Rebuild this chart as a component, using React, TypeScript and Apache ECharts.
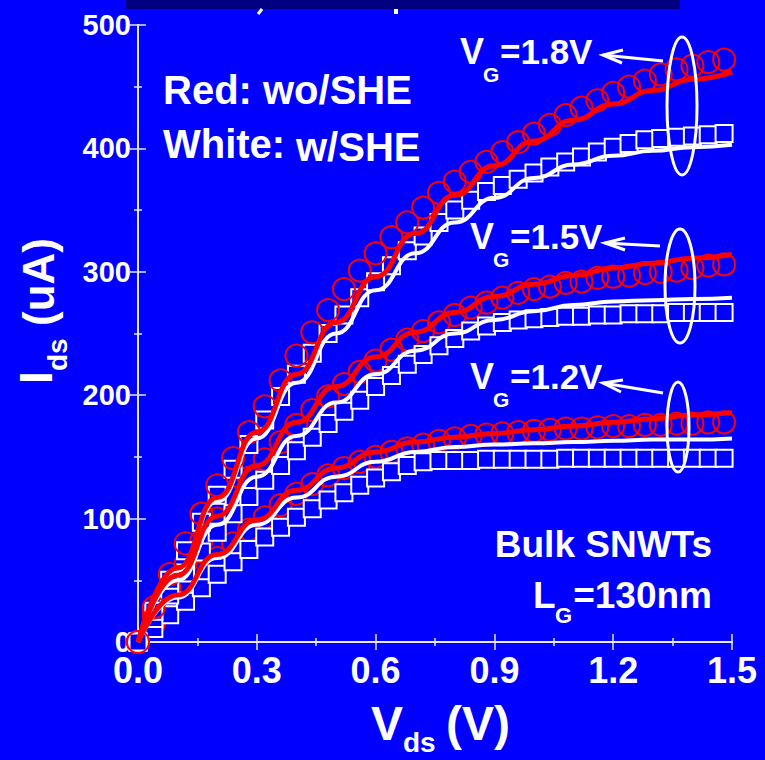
import React, { useEffect, useRef } from "react";
import * as echarts from "echarts";

// Vds sample points of the measured markers (V)
const VDS = [0, 0.04, 0.08, 0.12, 0.16, 0.2, 0.24, 0.28, 0.32, 0.36, 0.4, 0.44, 0.48, 0.52, 0.56, 0.6, 0.64, 0.68, 0.72, 0.76,
  0.8, 0.84, 0.88, 0.92, 0.96, 1.0, 1.04, 1.08, 1.12, 1.16, 1.2, 1.24, 1.28, 1.32, 1.36, 1.4, 1.44, 1.48];
// Vds points of the model curves (V)
const VLINE = [0, 0.1, 0.2, 0.3, 0.4, 0.5, 0.6, 0.7, 0.8, 0.9, 1.0, 1.1, 1.2, 1.3, 1.4, 1.5];

// Red circles: wo/SHE measured (uA)
const RED_18 = [0, 28, 55, 80, 104, 127, 149, 170, 191, 212, 232, 251, 269, 286, 301, 315, 328, 340, 352, 364,
  373, 381, 389, 397, 405, 412, 419, 427, 433, 439, 445, 450, 455, 460, 464, 467, 470, 472];
const RED_15 = [0, 22, 43, 63, 82, 100, 117, 133, 148, 162, 176, 188, 199, 209, 219, 228, 237, 245, 252, 259,
  265, 271, 275, 279, 283, 286, 288, 291, 292, 295, 296, 297, 299, 300, 301, 303, 305, 306];
const RED_12 = [0, 15, 29, 43, 56, 68, 80, 91, 101, 111, 120, 128, 135, 141, 146, 150, 154, 157, 160, 163,
  165, 167, 168, 169, 170, 171, 172, 173, 173, 174, 175, 175, 176, 176, 177, 177, 178, 178];

// White squares: w/SHE measured (uA)
const WHITE_18 = [0, 25, 50, 74, 97, 119, 140, 160, 180, 199, 217, 234, 250, 265, 279, 292, 305, 317, 329, 340,
  350, 358, 365, 370, 375, 380, 385, 389, 393, 397, 401, 404, 407, 408, 409, 410, 411, 412];
const WHITE_15 = [0, 19, 38, 56, 73, 89, 104, 118, 131, 143, 155, 166, 177, 187, 196, 207, 216, 225, 233, 240,
  246, 252, 256, 259, 261, 262, 263, 264, 264, 265, 265, 266, 266, 266, 267, 267, 267, 267];
const WHITE_12 = [0, 11, 22, 33, 44, 55, 65, 75, 85, 93, 101, 108, 115, 121, 127, 133, 138, 143, 146, 147,
  147, 147, 148, 148, 148, 148, 148, 149, 149, 149, 149, 149, 149, 149, 149, 149, 149, 149];

// Model curves (uA)
const RED_LINE_18 = [0, 60, 117, 170, 217, 259, 296, 331, 362, 386, 406, 423, 436, 447, 456, 462];
const RED_LINE_15 = [0, 54, 102, 143, 178, 207, 231, 251, 267, 280, 290, 297, 303, 307, 311, 314];
const RED_LINE_12 = [0, 38, 71, 99, 123, 141, 154, 162, 166, 169, 172, 175, 178, 181, 184, 186];
const WHITE_LINE_18 = [0, 58, 114, 165, 210, 250, 285, 315, 340, 360, 376, 387, 394, 398, 401, 403];
const WHITE_LINE_15 = [0, 50, 95, 134, 167, 194, 217, 236, 250, 261, 268, 273, 276, 277, 278, 279];
const WHITE_LINE_12 = [0, 36, 68, 95, 117, 134, 146, 154, 158, 160, 161, 162, 163, 164, 164, 165];

const X_TICKS = ["0.0", "0.3", "0.6", "0.9", "1.2", "1.5"];

const FONT = "'Liberation Sans', Arial, Helvetica, sans-serif";
const BLUE = "#0000ff";
const FRAME = "#e6e6ff";

function txt(x: number, y: number, text: string, size: number, align = "left", extra: any = {}) {
  return {
    type: "text",
    x,
    y,
    z: 100,
    silent: true,
    style: {
      text,
      fill: "#ffffff",
      fontSize: size,
      fontWeight: "bold",
      fontFamily: FONT,
      align,
      textAlign: align,
      verticalAlign: "middle",
      textVerticalAlign: "middle",
      ...extra,
    },
  };
}

function ellipse(cx: number, cy: number, rx: number, ry: number) {
  return {
    type: "ellipse",
    z: 100,
    silent: true,
    shape: { cx, cy, rx, ry },
    style: { fill: "none", stroke: "#ffffff", lineWidth: 3 },
  };
}

function arrow(tx: number, ty: number, hx: number, hy: number, w1: number[], w2: number[]) {
  return [
    { type: "line", z: 100, silent: true, shape: { x1: tx, y1: ty, x2: hx, y2: hy }, style: { stroke: "#ffffff", lineWidth: 3 } },
    { type: "polyline", z: 100, silent: true, shape: { points: [w1, [hx, hy], w2] }, style: { stroke: "#ffffff", lineWidth: 3, fill: "none" } },
  ];
}

function vgLabel(x: number, y: number, value: string) {
  return [
    txt(x, y, "V", 36),
    txt(x + 23, y + 23, "G", 21),
    txt(x + 40, y, "=" + value, 35),
  ];
}

export default function App() {
  const ref = useRef<HTMLDivElement>(null);

  useEffect(() => {
    document.body.style.margin = "0";
    document.body.style.background = BLUE;
    if (!ref.current) return;
    const chart = echarts.init(ref.current, undefined, { renderer: "svg" });

    const markers = (vals: number[], symbol: string, color: string, size: number, fill: string, z: number) => ({
      type: "scatter",
      data: VDS.map((x, i) => [x, vals[i]]),
      symbol,
      symbolSize: size,
      silent: true,
      z,
      itemStyle: { color: fill, borderColor: color, borderWidth: 2, opacity: 1 },
    });
    const curve = (vals: number[], color: string, width: number, z: number) => ({
      type: "line",
      data: VLINE.map((x, i) => [x, vals[i]]),
      smooth: true,
      smoothMonotone: "x",
      showSymbol: false,
      symbol: "none",
      silent: true,
      z,
      lineStyle: { color, width },
    });

    const axisLine = { show: true, lineStyle: { color: FRAME, width: 2 } };
    const axisTick = { inside: true, length: 8, lineStyle: { color: FRAME, width: 1.5 } };
    const minorTick = { show: true, splitNumber: 2, length: 4, lineStyle: { color: FRAME, width: 1.5 } };

    const option: any = {
      animation: false,
      backgroundColor: BLUE,
      grid: { left: 138, right: 33, top: 25, bottom: 118 },
      xAxis: [
        {
          type: "value",
          min: 0,
          max: 1.5,
          interval: 0.3,
          axisLine,
          axisTick,
          minorTick,
          splitLine: { show: false },
          axisLabel: {
            color: "#ffffff",
            fontSize: 36,
            lineHeight: 30,
            fontWeight: "bold",
            fontFamily: FONT,
            margin: 13,
            showMinLabel: true,
            showMaxLabel: true,
            formatter: (v: number) => X_TICKS[Math.round(v / 0.3)] ?? "",
          },
        },
        {
          type: "value",
          position: "top",
          min: 0,
          max: 1.5,
          interval: 0.3,
          axisLine,
          axisTick,
          minorTick,
          splitLine: { show: false },
          axisLabel: { show: false },
        },
      ],
      yAxis: [
        {
          type: "value",
          min: 0,
          max: 500,
          interval: 100,
          axisLine,
          axisTick,
          minorTick,
          splitLine: { show: false },
          axisLabel: {
            color: "#ffffff",
            fontSize: 29,
            lineHeight: 22,
            fontWeight: "bold",
            fontFamily: FONT,
            margin: 7,
            padding: [0, 0, 2, 0],
            showMinLabel: true,
            showMaxLabel: true,
          },
        },
        {
          type: "value",
          position: "right",
          min: 0,
          max: 500,
          interval: 100,
          axisLine,
          axisTick,
          minorTick,
          splitLine: { show: false },
          axisLabel: { show: false },
        },
      ],
      series: [
        markers(RED_12, "circle", "#ff0000", 22, "rgba(0,0,0,0)", 2),
        markers(RED_15, "circle", "#ff0000", 22, "rgba(0,0,0,0)", 2),
        markers(WHITE_12, "rect", "#ffffff", 17, BLUE, 3),
        markers(WHITE_15, "rect", "#ffffff", 17, BLUE, 3),
        markers(WHITE_18, "rect", "#ffffff", 17, BLUE, 3),
        markers(RED_18, "circle", "#ff0000", 22, "rgba(0,0,0,0)", 4),
        curve(WHITE_LINE_12, "#ffffff", 4, 5),
        curve(WHITE_LINE_15, "#ffffff", 4, 5),
        curve(WHITE_LINE_18, "#ffffff", 4, 5),
        curve(RED_LINE_12, "#ff0000", 5, 6),
        curve(RED_LINE_15, "#ff0000", 5, 6),
        curve(RED_LINE_18, "#ff0000", 5, 6),
      ],
      graphic: [
        { type: "rect", z: 100, silent: true, shape: { x: 126, y: 0, width: 554, height: 9 }, style: { fill: "#000080" } },
        { type: "line", z: 100, silent: true, shape: { x1: 262, y1: 9, x2: 258, y2: 14 }, style: { stroke: "#ffffff", lineWidth: 3 } },
        { type: "line", z: 100, silent: true, shape: { x1: 396, y1: 9, x2: 396, y2: 14 }, style: { stroke: "#ffffff", lineWidth: 4 } },
        txt(163, 90, "Red: wo/SHE", 40),
        txt(163, 144, "White:", 40),
        txt(296, 147, "w/SHE", 40),
        ...vgLabel(460, 51, "1.8V"),
        ...vgLabel(470, 236, "1.5V"),
        ...vgLabel(470, 376, "1.2V"),
        ellipse(682, 106, 15, 69),
        ellipse(680, 286, 15, 57),
        ellipse(678, 427, 11, 45),
        ...arrow(663, 61, 603, 55, [623, 50], [622, 63]),
        ...arrow(660, 246, 605, 243, [625, 238], [625, 250]),
        ...arrow(663, 393, 603, 383, [623, 380], [621, 392]),
        txt(712, 544, "Bulk SNWTs", 37, "right"),
        txt(533, 595, "L", 37),
        txt(555, 615, "G", 22),
        txt(712, 595, "=130nm", 37, "right"),
        // x axis title
        txt(371, 723, "V", 48),
        txt(403, 742, "ds", 28),
        txt(446, 723, "(V)", 48),
        // y axis title (rotated)
        {
          type: "group",
          x: 0,
          y: 0,
          rotation: Math.PI / 2,
          z: 100,
          silent: true,
          children: [
            txt(-384, 36, "I", 46),
            txt(-371, 57, "ds", 28),
            txt(-326, 38, "(uA)", 44),
          ],
        },
      ],
    };

    chart.setOption(option);
    return () => chart.dispose();
  }, []);

  return <div ref={ref} style={{ width: 765, height: 760, background: BLUE }} />;
}
